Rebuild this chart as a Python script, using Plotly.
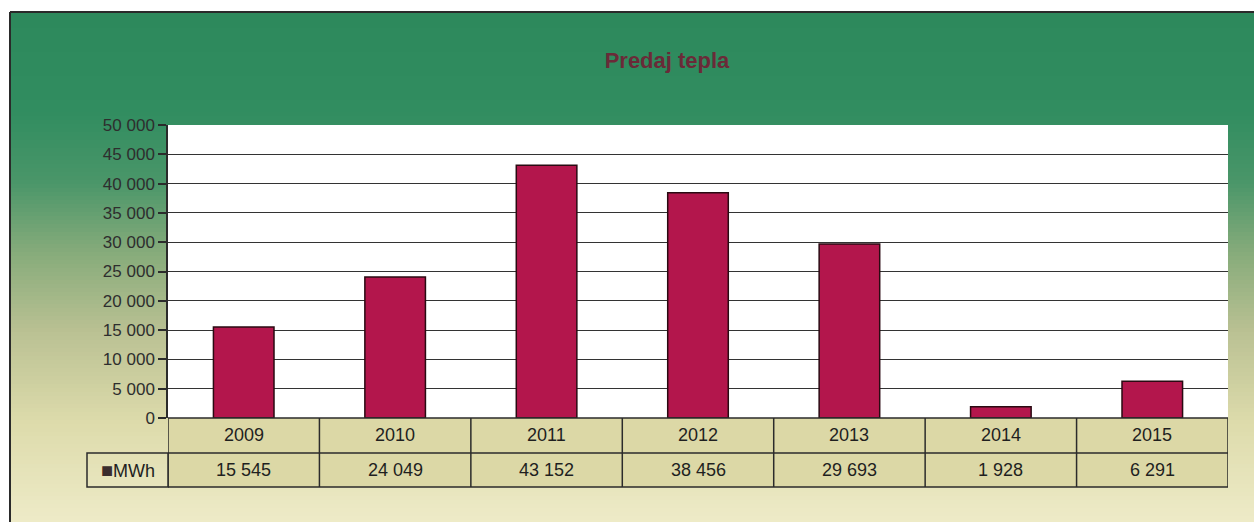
import plotly.graph_objects as go

# ---- data ----
years = ["2009", "2010", "2011", "2012", "2013", "2014", "2015"]
mwh = [15545, 24049, 43152, 38456, 29693, 1928, 6291]
series_name = "MWh"
title_text = "Predaj tepla"
y_ticks = list(range(0, 50001, 5000))

# ---- geometry (pixels) ----
W, H = 1254, 522
L, R, T, B = 168, 26, 125, 104
PW, PH = W - L - R, H - T - B


def px_to_py(ypx):
    return (H - B - ypx) / PH


def px_to_px(xpx):
    return (xpx - L) / PW


def fmt(v):
    return f"{v:,}".replace(",", " ")


def lerp(c1, c2, t):
    return tuple(int(round(a + (b - a) * t)) for a, b in zip(c1, c2))


# gradient stops (pixel y, rgb)
stops = [
    (12, (45, 137, 92)),
    (110, (49, 141, 96)),
    (180, (74, 150, 105)),
    (250, (134, 171, 122)),
    (330, (186, 193, 147)),
    (420, (221, 219, 171)),
    (522, (238, 235, 200)),
]

shapes = []
step = 4
y = 12
while y < H:
    for i in range(len(stops) - 1):
        if stops[i][0] <= y <= stops[i + 1][0]:
            t = (y - stops[i][0]) / (stops[i + 1][0] - stops[i][0])
            c = lerp(stops[i][1], stops[i + 1][1], t)
            break
    shapes.append(dict(type="rect", xref="paper", yref="paper", layer="below",
                       x0=px_to_px(10), x1=px_to_px(W + 2),
                       y0=px_to_py(min(y + step + 1, H + 2)), y1=px_to_py(y),
                       fillcolor=f"rgb{c}", line=dict(width=0)))
    y += step

# white plot area on top of gradient
shapes.append(dict(type="rect", xref="paper", yref="paper", layer="below",
                   x0=0, x1=1, y0=0, y1=1, fillcolor="white", line=dict(width=0)))

# chart frame lines (left, top)
shapes.append(dict(type="line", xref="paper", yref="paper", layer="below",
                   x0=px_to_px(10), x1=px_to_px(10), y0=px_to_py(12), y1=px_to_py(H + 2),
                   line=dict(color="#2a2a2a", width=2)))
shapes.append(dict(type="line", xref="paper", yref="paper", layer="below",
                   x0=px_to_px(10), x1=px_to_px(W + 2), y0=px_to_py(12), y1=px_to_py(12),
                   line=dict(color="#2a2a2a", width=2)))

# ---- data table ----
row1_top, row1_bot, row2_bot = px_to_py(418), px_to_py(453), px_to_py(487)
leg_left = px_to_px(87)
cell_fill = "#DCD8A6"
line_c = "#2b2b2b"
n = len(years)
shapes.append(dict(type="rect", xref="x", yref="paper", x0=-0.5, x1=n - 0.5,
                   y0=row2_bot, y1=row1_top, fillcolor=cell_fill,
                   line=dict(color=line_c, width=1.5), layer="above"))
shapes.append(dict(type="rect", xref="paper", yref="paper", x0=leg_left, x1=0,
                   y0=row2_bot, y1=row1_bot, fillcolor="rgba(0,0,0,0)",
                   line=dict(color=line_c, width=1.5), layer="above"))
shapes.append(dict(type="line", xref="x", yref="paper", x0=-0.5, x1=n - 0.5,
                   y0=row1_bot, y1=row1_bot, line=dict(color=line_c, width=1.5)))
for i in range(1, n):
    shapes.append(dict(type="line", xref="x", yref="paper", x0=i - 0.5, x1=i - 0.5,
                       y0=row2_bot, y1=row1_top, line=dict(color=line_c, width=1.5)))

annotations = []
txt_font = dict(family="Liberation Sans, Arial, sans-serif", size=18, color="#1f1f1f")
for i, (yr, v) in enumerate(zip(years, mwh)):
    annotations.append(dict(x=i, y=(row1_top + row1_bot) / 2, xref="x", yref="paper",
                            xanchor="center", yanchor="middle",
                            text=yr, showarrow=False, font=txt_font))
    annotations.append(dict(x=i, y=(row1_bot + row2_bot) / 2, xref="x", yref="paper",
                            xanchor="center", yanchor="middle",
                            text=fmt(v), showarrow=False, font=txt_font))
annotations.append(dict(x=(leg_left + 0) / 2, y=(row1_bot + row2_bot) / 2, xref="paper",
                        yref="paper", showarrow=False, xanchor="center", yanchor="middle",
                        text="<span style='color:#3a2e2e;font-size:20px'>■</span>" + series_name,
                        font=txt_font))

fig = go.Figure()
fig.add_trace(go.Bar(
    x=years, y=mwh, name=series_name, width=0.4,
    marker=dict(color="#B3164C", line=dict(color="#2a0a12", width=1.5)),
))

fig.update_layout(
    width=W, height=H,
    margin=dict(l=L, r=R, t=T, b=B),
    paper_bgcolor="white",
    plot_bgcolor="white",
    showlegend=False,
    separators=". ",
    title=dict(text=f"<b>{title_text}</b>", x=667 / W, xref="container",
               y=1 - 60 / H, yref="container", xanchor="center", yanchor="middle",
               font=dict(family="Liberation Sans, Arial, sans-serif", size=22, color="#6A2A38")),
    xaxis=dict(type="category", range=[-0.5, n - 0.5], showticklabels=False,
               showgrid=False, ticks="", showline=False, zeroline=False),
    yaxis=dict(range=[0, 50000], tickvals=y_ticks, ticktext=[fmt(t) for t in y_ticks],
               showgrid=True, gridcolor="#333333", gridwidth=1,
               showline=True, linecolor=line_c, linewidth=1.5,
               ticks="outside", ticklen=8, tickcolor=line_c, tickwidth=1.5,
               zeroline=False,
               tickfont=dict(family="Liberation Sans, Arial, sans-serif", size=17, color="#2e2e2e")),
    shapes=shapes,
    annotations=annotations,
    bargap=0.6,
)

fig.write_html("out.html", config={"displayModeBar": False},
               post_script="document.body.style.margin='0';document.body.style.overflow='hidden';")
